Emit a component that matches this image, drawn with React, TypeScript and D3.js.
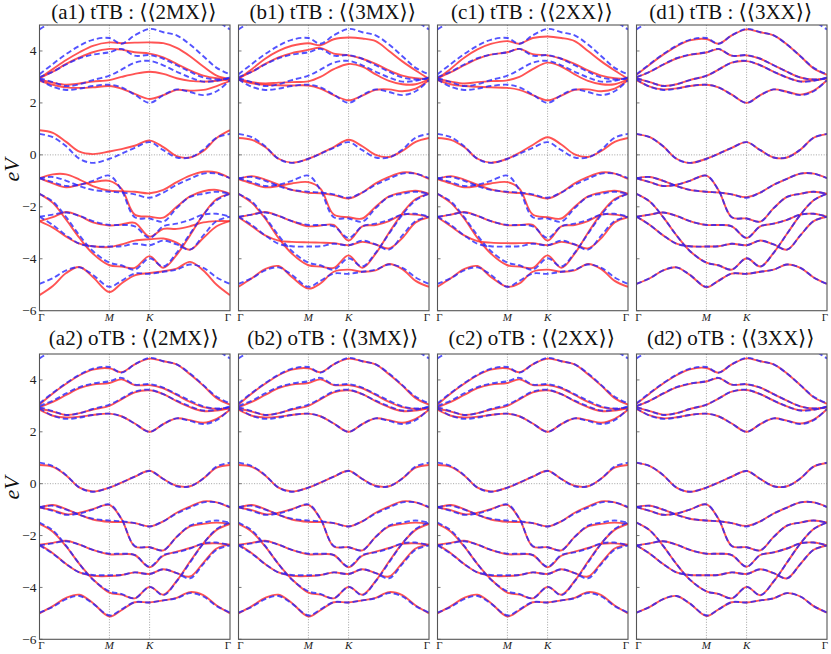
import React from "react";
import * as d3 from "d3";

// k-path fractions: Γ(0) → M(0.367) → K(0.578) → Γ(1)
const kFrac = [0, 0.07, 0.14, 0.21, 0.28, 0.367, 0.43, 0.5, 0.578, 0.65, 0.72, 0.79, 0.86, 0.93, 1.0];
const kTickPos = [0, 0.367, 0.578, 1.0];
const kTickLabels = ["Γ", "M", "K", "Γ"];
const yTicks = [4, 2, 0, -2, -4, -6];
const yTickLabels = ["4", "2", "0", "−2", "−4", "−6"];

const titles = [
  "(a1) tTB : ⟨⟨2MX⟩⟩", "(b1) tTB : ⟨⟨3MX⟩⟩", "(c1) tTB : ⟨⟨2XX⟩⟩", "(d1) tTB : ⟨⟨3XX⟩⟩",
  "(a2) oTB : ⟨⟨2MX⟩⟩", "(b2) oTB : ⟨⟨3MX⟩⟩", "(c2) oTB : ⟨⟨2XX⟩⟩", "(d2) oTB : ⟨⟨3XX⟩⟩",
];

// reference (DFT) bands, blue dashed
const dftBands: number[][] = [
  [4.83, 5.2, 5.9, 6.5, 7, 7, 7, 7, 7, 7, 7, 6.5, 5.9, 5.2, 4.83],
  [3.1, 3.5, 3.88, 4.2, 4.43, 4.5, 4.28, 4.6, 4.85, 4.72, 4.6, 4.25, 3.8, 3.35, 3.1],
  [3.0, 3.2, 3.48, 3.72, 3.86, 3.95, 4.08, 3.82, 3.84, 3.7, 3.45, 3.2, 2.98, 2.9, 2.95],
  [2.95, 2.8, 2.65, 2.72, 2.88, 3.05, 3.28, 3.55, 3.62, 3.45, 3.2, 2.98, 2.82, 2.85, 2.98],
  [2.9, 2.62, 2.5, 2.55, 2.65, 2.7, 2.6, 2.32, 2.0, 2.3, 2.52, 2.42, 2.3, 2.45, 2.88],
  [0.81, 0.68, 0.33, -0.15, -0.31, -0.15, 0.04, 0.27, 0.49, 0.18, -0.1, -0.1, 0.2, 0.66, 0.81],
  [-0.9, -0.85, -1.0, -1.2, -1.35, -1.42, -1.45, -1.52, -1.65, -1.45, -1.15, -0.92, -0.72, -0.72, -0.9],
  [-0.9, -1.05, -1.2, -1.15, -1.0, -0.8, -1.35, -2.4, -2.45, -2.57, -2.05, -1.62, -1.5, -1.42, -1.5],
  [-2.38, -2.7, -3.1, -3.42, -3.52, -3.53, -3.52, -3.42, -3.48, -3.3, -3.45, -3.65, -3.1, -2.55, -2.38],
  [-2.38, -2.3, -2.22, -2.35, -2.55, -2.7, -2.7, -2.75, -3.2, -2.75, -2.65, -2.5, -2.3, -2.27, -2.38],
  [-1.5, -1.8, -2.4, -3.1, -3.7, -4.15, -4.25, -4.42, -3.98, -4.3, -3.77, -3.04, -2.31, -1.75, -1.5],
  [-4.97, -4.75, -4.45, -4.33, -4.62, -5.08, -4.85, -4.57, -4.58, -4.5, -4.42, -4.22, -4.35, -4.72, -4.97],
];

// tTB fit for 2MX (a1), red
const fitA1: number[][] = [
  [5.4, 6, 6.6, 7, 7, 7, 7, 7, 7, 7, 7, 7, 6.6, 6, 5.4],
  [2.95, 3.3, 3.65, 3.95, 4.2, 4.33, 4.3, 4.32, 4.33, 4.3, 4.12, 3.8, 3.4, 3.05, 2.92],
  [2.95, 3.2, 3.5, 3.75, 3.95, 4.08, 4.05, 3.95, 3.9, 3.75, 3.5, 3.25, 3.05, 2.95, 2.92],
  [2.9, 2.78, 2.7, 2.75, 2.82, 2.88, 3.0, 3.12, 3.2, 3.12, 2.95, 2.85, 2.82, 2.85, 2.9],
  [2.85, 2.7, 2.6, 2.58, 2.6, 2.65, 2.55, 2.35, 2.15, 2.3, 2.5, 2.47, 2.5, 2.65, 2.85],
  [0.95, 0.85, 0.5, 0.12, 0.03, 0.13, 0.22, 0.35, 0.55, 0.3, -0.05, -0.1, 0.15, 0.65, 0.95],
  [-0.9, -0.75, -0.75, -0.95, -1.2, -1.38, -1.4, -1.42, -1.48, -1.35, -1.05, -0.8, -0.65, -0.68, -0.9],
  [-0.9, -1.1, -1.25, -1.15, -1.05, -1.0, -1.3, -2.3, -2.38, -2.42, -2.0, -1.6, -1.4, -1.35, -1.5],
  [-2.55, -2.8, -3.15, -3.42, -3.52, -3.55, -3.45, -3.3, -3.25, -3.22, -3.38, -3.65, -3.2, -2.75, -2.55],
  [-2.55, -2.4, -2.2, -2.35, -2.6, -2.72, -2.68, -2.62, -3.15, -2.85, -2.85, -2.75, -2.6, -2.55, -2.55],
  [-1.5, -1.85, -2.5, -3.2, -3.8, -4.25, -4.3, -4.35, -3.9, -4.35, -3.85, -3.1, -2.3, -1.7, -1.5],
  [-5.4, -5.05, -4.55, -4.32, -4.7, -5.28, -4.95, -4.64, -4.55, -4.48, -4.38, -4.12, -4.45, -5.0, -5.4],
];

// tTB fit for 3MX (b1), red
const fitB1: number[][] = [
  [5.3, 5.9, 6.5, 7, 7, 7, 7, 7, 7, 7, 7, 7, 6.5, 5.9, 5.3],
  [2.93, 3.3, 3.7, 4.0, 4.2, 4.3, 4.22, 4.45, 4.52, 4.48, 4.38, 4.0, 3.6, 3.25, 2.93],
  [2.95, 3.2, 3.5, 3.75, 3.92, 4.04, 4.12, 3.9, 3.83, 3.7, 3.5, 3.25, 3.05, 2.95, 2.93],
  [2.92, 2.8, 2.75, 2.78, 2.8, 2.83, 3.0, 3.3, 3.5, 3.4, 3.1, 2.85, 2.72, 2.72, 2.92],
  [2.9, 2.75, 2.7, 2.68, 2.67, 2.67, 2.55, 2.3, 2.1, 2.28, 2.5, 2.52, 2.45, 2.55, 2.88],
  [0.65, 0.58, 0.3, -0.15, -0.3, -0.15, 0.05, 0.3, 0.58, 0.33, 0.0, -0.08, 0.15, 0.5, 0.65],
  [-0.93, -0.82, -0.95, -1.15, -1.35, -1.46, -1.48, -1.55, -1.68, -1.45, -1.1, -0.85, -0.68, -0.72, -0.93],
  [-0.93, -1.1, -1.25, -1.2, -1.1, -1.05, -1.3, -2.3, -2.4, -2.45, -2.0, -1.6, -1.45, -1.38, -1.5],
  [-2.4, -2.75, -3.1, -3.3, -3.35, -3.37, -3.38, -3.4, -3.48, -3.35, -3.45, -3.6, -3.2, -2.6, -2.4],
  [-2.4, -2.3, -2.2, -2.35, -2.55, -2.75, -2.72, -2.7, -3.3, -2.75, -2.7, -2.55, -2.3, -2.3, -2.4],
  [-1.5, -1.85, -2.45, -3.2, -3.8, -4.25, -4.3, -4.35, -3.87, -4.35, -3.8, -3.0, -2.25, -1.7, -1.5],
  [-5.08, -4.75, -4.4, -4.28, -4.7, -5.15, -4.95, -4.5, -4.42, -4.5, -4.45, -4.2, -4.4, -4.85, -5.08],
];

// tTB fit for 2XX (c1), red
const fitC1: number[][] = [
  [5.3, 5.9, 6.5, 7, 7, 7, 7, 7, 7, 7, 7, 7, 6.5, 5.9, 5.3],
  [2.93, 3.32, 3.74, 4.06, 4.27, 4.38, 4.28, 4.5, 4.56, 4.5, 4.38, 4.0, 3.6, 3.25, 2.93],
  [2.95, 3.18, 3.45, 3.7, 3.86, 3.95, 4.08, 3.88, 3.83, 3.7, 3.5, 3.25, 3.05, 2.95, 2.93],
  [2.92, 2.82, 2.75, 2.8, 2.84, 2.87, 3.0, 3.3, 3.55, 3.4, 3.1, 2.85, 2.72, 2.72, 2.92],
  [2.88, 2.72, 2.65, 2.62, 2.6, 2.58, 2.5, 2.3, 2.1, 2.28, 2.5, 2.52, 2.45, 2.55, 2.88],
  [0.65, 0.58, 0.3, -0.15, -0.3, -0.15, 0.08, 0.38, 0.68, 0.4, 0.02, -0.08, 0.15, 0.5, 0.65],
  [-0.93, -0.82, -0.95, -1.15, -1.33, -1.44, -1.47, -1.55, -1.68, -1.45, -1.1, -0.85, -0.68, -0.72, -0.93],
  [-0.93, -1.1, -1.25, -1.2, -1.1, -1.05, -1.3, -2.3, -2.4, -2.45, -2.0, -1.6, -1.45, -1.38, -1.5],
  [-2.4, -2.75, -3.1, -3.32, -3.38, -3.4, -3.4, -3.4, -3.48, -3.35, -3.45, -3.6, -3.2, -2.6, -2.4],
  [-2.4, -2.3, -2.2, -2.35, -2.55, -2.71, -2.7, -2.7, -3.3, -2.75, -2.7, -2.55, -2.3, -2.3, -2.4],
  [-1.5, -1.85, -2.45, -3.2, -3.8, -4.25, -4.3, -4.35, -3.87, -4.35, -3.8, -3.0, -2.25, -1.7, -1.5],
  [-5.08, -4.75, -4.4, -4.28, -4.7, -5.08, -4.95, -4.5, -4.42, -4.5, -4.45, -4.2, -4.4, -4.85, -5.08],
];

// oTB fits (a2, b2, c2), red
const fitO: number[][] = [
  [5.3, 5.9, 6.5, 7, 7, 7, 7, 7, 7, 7, 7, 7, 6.5, 5.9, 5.3],
  [3.05, 3.48, 3.85, 4.18, 4.4, 4.45, 4.3, 4.6, 4.82, 4.72, 4.6, 4.22, 3.78, 3.3, 3.05],
  [2.95, 3.15, 3.42, 3.68, 3.82, 3.88, 4.02, 3.8, 3.8, 3.68, 3.42, 3.15, 2.95, 2.88, 2.92],
  [2.9, 2.78, 2.65, 2.72, 2.86, 3.0, 3.25, 3.52, 3.6, 3.45, 3.18, 2.95, 2.8, 2.82, 2.92],
  [2.85, 2.62, 2.55, 2.58, 2.65, 2.7, 2.6, 2.32, 2.0, 2.3, 2.52, 2.45, 2.35, 2.5, 2.85],
  [0.72, 0.65, 0.32, -0.15, -0.3, -0.15, 0.04, 0.27, 0.5, 0.18, -0.08, -0.1, 0.2, 0.62, 0.72],
  [-0.92, -0.82, -0.98, -1.2, -1.38, -1.47, -1.48, -1.52, -1.65, -1.45, -1.12, -0.88, -0.68, -0.72, -0.92],
  [-0.92, -1.02, -1.18, -1.12, -0.98, -0.82, -1.35, -2.42, -2.45, -2.57, -2.05, -1.65, -1.55, -1.5, -1.55],
  [-2.35, -2.68, -3.1, -3.42, -3.55, -3.56, -3.52, -3.42, -3.48, -3.3, -3.45, -3.58, -3.05, -2.5, -2.35],
  [-2.35, -2.28, -2.2, -2.35, -2.55, -2.72, -2.72, -2.75, -3.22, -2.78, -2.62, -2.48, -2.32, -2.3, -2.35],
  [-1.55, -1.85, -2.42, -3.1, -3.68, -4.2, -4.28, -4.42, -3.98, -4.28, -3.75, -3.0, -2.3, -1.78, -1.55],
  [-5.0, -4.72, -4.4, -4.28, -4.6, -5.12, -4.88, -4.57, -4.58, -4.5, -4.4, -4.18, -4.3, -4.7, -5.0],
];

// 3XX fits (d1, d2), red
const fit3XX: number[][] = [
  [5.2, 5.8, 6.4, 6.8, 7, 7, 7, 7, 7, 7, 7, 6.8, 6.4, 5.8, 5.2],
  [3.08, 3.48, 3.86, 4.18, 4.41, 4.46, 4.28, 4.6, 4.83, 4.72, 4.6, 4.25, 3.8, 3.33, 3.08],
  [2.98, 3.2, 3.47, 3.71, 3.85, 3.94, 4.07, 3.82, 3.83, 3.7, 3.45, 3.2, 2.98, 2.9, 2.94],
  [2.94, 2.8, 2.66, 2.72, 2.88, 3.04, 3.28, 3.55, 3.61, 3.45, 3.2, 2.98, 2.83, 2.86, 2.97],
  [2.88, 2.63, 2.52, 2.56, 2.65, 2.7, 2.6, 2.32, 2.0, 2.3, 2.52, 2.43, 2.32, 2.47, 2.87],
  [0.8, 0.68, 0.33, -0.15, -0.31, -0.15, 0.04, 0.27, 0.49, 0.18, -0.1, -0.1, 0.2, 0.66, 0.8],
  [-0.9, -0.85, -1.0, -1.2, -1.35, -1.42, -1.45, -1.52, -1.63, -1.45, -1.15, -0.92, -0.72, -0.72, -0.9],
  [-0.9, -1.05, -1.2, -1.15, -1.0, -0.8, -1.35, -2.4, -2.45, -2.57, -2.05, -1.62, -1.5, -1.42, -1.5],
  [-2.38, -2.7, -3.1, -3.42, -3.52, -3.53, -3.52, -3.42, -3.48, -3.3, -3.45, -3.65, -3.1, -2.55, -2.38],
  [-2.38, -2.3, -2.22, -2.35, -2.55, -2.7, -2.7, -2.75, -3.2, -2.75, -2.65, -2.5, -2.3, -2.27, -2.38],
  [-1.5, -1.8, -2.4, -3.1, -3.7, -4.15, -4.25, -4.42, -3.98, -4.3, -3.77, -3.04, -2.31, -1.75, -1.5],
  [-4.97, -4.75, -4.45, -4.33, -4.62, -5.1, -4.85, -4.57, -4.58, -4.5, -4.42, -4.22, -4.35, -4.72, -4.97],
];

const redSets = [fitA1, fitB1, fitC1, fit3XX, fitO, fitO, fitO, fit3XX];

const panelLefts = [39.5, 238.5, 437.5, 636.5];
const panelWidth = 190.5;
const rowTops = [25, 354];
const rowBottoms = [310.7, 639.3];

const serif = "'Liberation Serif', 'DejaVu Serif', serif";

function Panel({ idx }: { idx: number }) {
  const col = idx % 4;
  const row = Math.floor(idx / 4);
  const x0 = panelLefts[col];
  const x1 = x0 + panelWidth;
  const y0 = rowTops[row];
  const y1 = rowBottoms[row];
  const xs = d3.scaleLinear().domain([0, 1]).range([x0, x1]);
  const ys = d3.scaleLinear().domain([-6, 5]).range([y1, y0]);
  const line = d3
    .line<number>()
    .x((_, i) => xs(kFrac[i]))
    .y((v) => ys(v))
    .curve(d3.curveCatmullRom.alpha(0.5));
  const clipId = `clip-${idx}`;
  const red = redSets[idx];
  return (
    <g>
      <defs>
        <clipPath id={clipId}>
          <rect x={x0} y={y0} width={x1 - x0} height={y1 - y0} />
        </clipPath>
      </defs>
      <text x={(x0 + x1) / 2 - 1} y={row === 0 ? 18.5 : 345} textAnchor="middle" fontFamily={serif} fontSize={21} fill="#111">
        {titles[idx]}
      </text>
      <g clipPath={`url(#${clipId})`}>
        {[kTickPos[1], kTickPos[2]].map((k) => (
          <line key={k} x1={xs(k)} x2={xs(k)} y1={y0} y2={y1} stroke="#999" strokeWidth={0.9} strokeDasharray="1,1.6" />
        ))}
        <line x1={x0} x2={x1} y1={ys(0)} y2={ys(0)} stroke="#999" strokeWidth={0.9} strokeDasharray="1,1.6" />
        {red.map((b, i) => (
          <path key={`r${i}`} d={line(b) || ""} fill="none" stroke="rgb(255,45,45)" strokeOpacity={0.82} strokeWidth={1.9} />
        ))}
        {dftBands.map((b, i) => (
          <path key={`b${i}`} d={line(b) || ""} fill="none" stroke="rgb(35,35,255)" strokeOpacity={0.78} strokeWidth={1.9} strokeDasharray="5.5,3" />
        ))}
      </g>
      {yTicks.map((t) => (
        <line key={t} x1={x0} x2={x0 + 3} y1={ys(t)} y2={ys(t)} stroke="#555" strokeWidth={0.8} />
      ))}
      <rect x={x0} y={y0} width={x1 - x0} height={y1 - y0} fill="none" stroke="#555" strokeWidth={1.1} />
      {col === 0 &&
        yTicks.map((t, i) => (
          <text key={t} x={x0 - 3} y={ys(t) + 4.5} textAnchor="end" fontFamily={serif} fontSize={13.5} fill="#222">
            {yTickLabels[i]}
          </text>
        ))}
      {kTickPos.map((k, i) => (
        <text
          key={i}
          x={xs(k) + (i === 0 ? 2 : i === 3 ? -2 : 0)}
          y={y1 + 10}
          textAnchor="middle"
          fontFamily={serif}
          fontSize={11}
          fontStyle={i === 1 || i === 2 ? "italic" : "normal"}
          fill="#222"
        >
          {kTickLabels[i]}
        </text>
      ))}
    </g>
  );
}

export default function App() {
  return (
    <svg width={831} height={654} style={{ position: "absolute", left: 0, top: 0, background: "#fff" }}>
      <rect x={0} y={0} width={831} height={654} fill="#fff" />
      {d3.range(8).map((i) => (
        <Panel key={i} idx={i} />
      ))}
      {[170, 488].map((cy, i) => (
        <text key={i} transform={`translate(19,${cy}) rotate(-90)`} textAnchor="middle" fontFamily={serif} fontStyle="italic" fontSize={22} fill="#111">
          eV
        </text>
      ))}
    </svg>
  );
}
